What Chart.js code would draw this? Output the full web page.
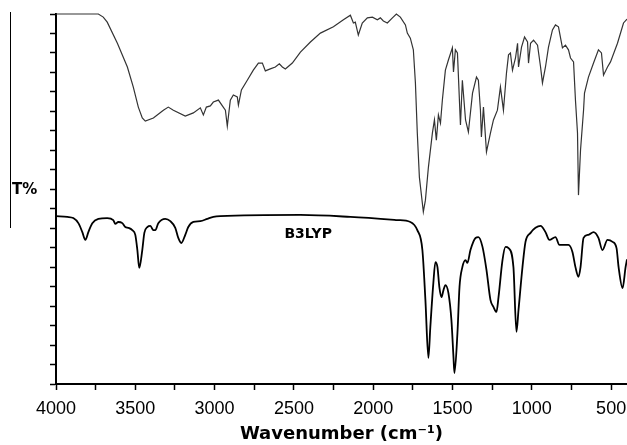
<!DOCTYPE html>
<html>
<head>
<meta charset="utf-8">
<script src="https://cdn.jsdelivr.net/npm/chart.js@4.4.0/dist/chart.umd.min.js"></script>
<style>
html, body { margin: 0; padding: 0; background: #fff; }
</style>
</head>
<body>
<canvas id="mycanvas" width="627" height="445"></canvas>
<script>
// experimental spectrum (top trace)
var expWn = [4000,3733,3702,3677,3613,3550,3513,3481,3456,3437,
  3386,3323,3292,3260,3185,3134,3090,3071,3052,3027,
  3008,2976,2951,2932,2920,2901,2882,2857,2850,2831,
  2794,2756,2724,2699,2680,2649,2617,2592,2573,2554,
  2510,2459,2396,2333,2251,2188,2144,2125,2113,2094,
  2069,2037,2005,1974,1955,1936,1911,1879,1854,1829,
  1797,1785,1766,1747,1734,1722,1709,1684,1671,1652,
  1627,1614,1602,1589,1576,1564,1545,1526,1501,1494,
  1482,1469,1450,1438,1418,1400,1374,1349,1337,1324,
  1318,1305,1286,1261,1242,1217,1198,1179,1160,1147,
  1135,1122,1103,1090,1084,1065,1046,1027,1021,1008,
  989,964,945,933,914,895,870,851,832,807,
  788,769,756,737,725,712,706,693,674,668,
  643,611,580,561,548,523,504,460,422,400];
var expT = [95,95,94.2,92.9,87.5,81.4,76.3,71.1,68.3,67.5,
  68.3,70.3,71.1,70.3,68.8,69.6,70.9,69.1,71.1,71.4,
  72.4,72.9,71.4,70.3,66.2,72.9,74.2,73.7,71.6,75.5,
  78,80.6,82.4,82.4,80.4,80.9,81.4,82.2,81.4,80.9,
  82.4,85.2,87.8,90.1,91.7,93.5,94.7,92.7,92.9,89.6,
  92.7,94,94.2,93.5,94,93.2,92.7,94,95,94.2,
  92.2,90.1,88.8,85.8,77.3,64.4,53.1,44.2,47.2,55.7,
  64.4,67.8,62.6,69.1,67,72.9,80.6,83.2,86.3,80.1,
  85.8,85,66.5,78,67.8,64.7,74.7,78.8,78,70.3,
  63.4,71.1,59.6,64.4,67.8,70.3,76.3,70.3,79.8,84.5,
  85,80.6,83.7,87.5,81.4,86.5,89.1,87.8,82.4,87.5,
  88.3,87,81.4,77.3,81.4,86.5,90.9,92.2,91.7,86.3,
  87,85.8,83.7,82.7,72.9,64.4,48.5,60.1,70.3,74.7,
  78.8,82.4,85.8,85,79.3,81.4,82.7,87.5,92.7,93.7];

// calculated spectrum (B3LYP, bottom trace)
var calcWn = [4000,3929,3891,3859,3834,3815,3796,3771,3733,3677,
  3639,3626,3607,3582,3563,3544,3519,3500,3487,3475,
  3456,3443,3424,3405,3386,3374,3355,3311,3279,3248,
  3229,3210,3185,3166,3134,3090,3046,3008,2964,2459,
  2144,1848,1766,1722,1690,1671,1652,1640,1621,1608,
  1595,1583,1570,1557,1545,1526,1507,1494,1488,1469,
  1456,1438,1418,1406,1387,1355,1337,1311,1286,1261,
  1242,1223,1210,1185,1166,1147,1116,1097,1084,1059,
  1040,1008,977,945,914,889,851,826,801,769,
  744,725,706,693,674,643,611,580,555,523,
  491,466,453,428,409,400];
var calcT = [43.1,42.9,42.6,41.3,39,37,39,41.3,42.4,42.6,
  42.1,41.1,41.6,41.3,40.3,40.1,39.5,38.3,34.4,29.8,
  34.4,38.8,40.3,40.6,39.5,39.5,41.3,42.4,41.8,40.1,
  37.5,36.2,38.3,40.3,41.6,41.8,42.4,42.9,43.1,43.4,
  42.9,42.1,41.6,39.5,34.4,21.6,6.7,14.6,25.9,31.3,
  30,24.9,22.3,24.1,25.4,23.4,16.4,6.9,2.8,13.1,
  24.9,30,31.8,31.1,34.4,37.5,37.7,35.2,29.3,21.6,
  19.8,18.5,22.3,31.8,35.2,34.9,30,13.4,19,30,
  36.5,38.8,40.1,40.6,39,37,37.7,35.7,35.7,35.7,
  33.9,30,27.5,30,37.5,38.3,39,37.5,34.4,37,
  36.5,34.9,30,24.6,30,32];

var xTicks = [4000,3750,3500,3250,3000,2750,2500,2250,2000,1750,1500,1250,1000,750,500];
var yTicks = [0,5,10,15,20,25,30,35,40,45,50,55,60,65,70,75,80,85,90,95];

var seriesLabel = 'B3LYP';
var labelWn = 2410, labelT = 38.3;
var yTitle = 'T%';
var xTitle = 'Wavenumber (cm\u207B\u00B9)';

function toPoints(wn, t) {
  var pts = [];
  for (var i = 0; i < wn.length; i++) pts.push({x: wn[i], y: t[i]});
  return pts;
}

var extraText = {
  id: 'extraText',
  afterDraw: function(chart) {
    var ctx = chart.ctx;
    var xs = chart.scales.x, ys = chart.scales.y;
    ctx.save();
    ctx.strokeStyle = '#000';
    ctx.lineWidth = 1;
    ctx.beginPath();
    ctx.moveTo(10.5, 12);
    ctx.lineTo(10.5, 228);
    ctx.stroke();
    ctx.fillStyle = '#000';
    ctx.textBaseline = 'middle';
    ctx.font = 'bold 15px "DejaVu Sans"';
    ctx.fillText(yTitle, 12, 190);
    ctx.textAlign = 'center';
    ctx.font = 'bold 14px "DejaVu Sans"';
    ctx.fillText(seriesLabel, xs.getPixelForValue(labelWn), ys.getPixelForValue(labelT));
    ctx.restore();
  }
};

var ctx = document.getElementById('mycanvas');
var chart = new Chart(ctx, {
  type: 'line',
  data: {
    datasets: [
      {
        label: 'experimental',
        data: toPoints(expWn, expT),
        borderColor: '#333',
        borderWidth: 1.2,
        tension: 0,
        clip: false
      },
      {
        label: seriesLabel,
        data: toPoints(calcWn, calcT),
        borderColor: '#000',
        borderWidth: 1.8,
        cubicInterpolationMode: 'monotone'
      }
    ]
  },
  options: {
    responsive: false,
    animation: false,
    layout: { padding: { top: 14, right: 0, bottom: 0, left: 0 } },
    elements: { point: { radius: 0 } },
    plugins: { legend: { display: false }, tooltip: { enabled: false } },
    scales: {
      x: {
        type: 'linear',
        reverse: true,
        min: 400,
        max: 4000,
        afterBuildTicks: function(s) { s.ticks = xTicks.map(function(v) { return {value: v}; }); },
        afterFit: function(s) { s.height = 61; s.paddingLeft = 0; s.paddingRight = 0; },
        grid: { drawOnChartArea: false, tickLength: 6, tickColor: '#000', tickWidth: 1.5 },
        border: { color: '#000', width: 2 },
        ticks: {
          autoSkip: false,
          maxRotation: 0,
          padding: 8,
          color: '#000',
          font: { family: '"Liberation Sans"', size: 18 },
          callback: function(v) { return v % 500 === 0 ? String(v) : ''; }
        },
        title: {
          display: true,
          text: xTitle,
          color: '#000',
          padding: 0,
          font: { family: '"DejaVu Sans"', size: 18, weight: 'bold' }
        }
      },
      y: {
        min: 0,
        max: 95,
        afterBuildTicks: function(s) { s.ticks = yTicks.map(function(v) { return {value: v}; }); },
        afterFit: function(s) { s.width = 56; },
        grid: { drawOnChartArea: false, tickLength: 6, tickColor: '#000', tickWidth: 1.5 },
        border: { color: '#000', width: 2 },
        ticks: { callback: function() { return ''; } }
      }
    }
  },
  plugins: [extraText]
});
</script>
</body>
</html>
